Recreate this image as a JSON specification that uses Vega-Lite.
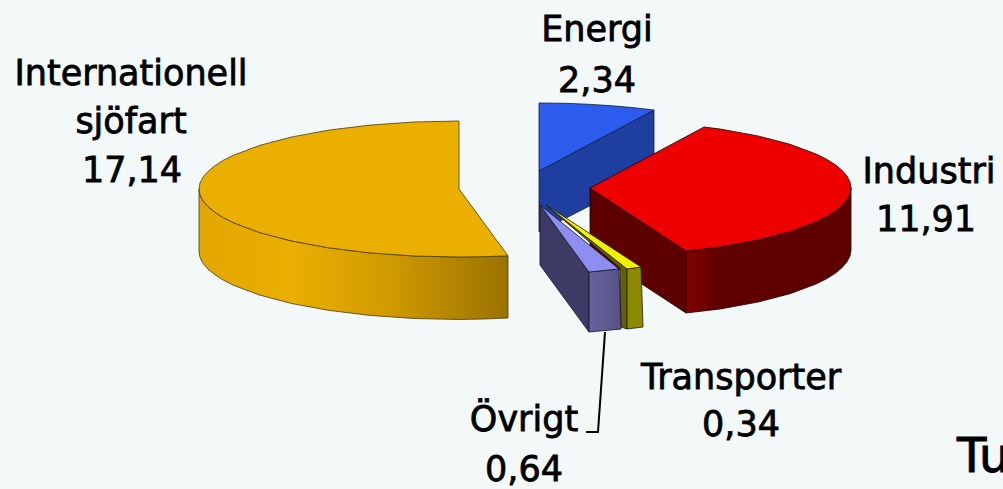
{
  "$schema": "https://vega.github.io/schema/vega-lite/v6.json",
  "width": 1003,
  "height": 489,
  "padding": 0,
  "autosize": {"type": "none"},
  "background": "#f3f8f9",
  "view": {"stroke": null},
  "datasets": {
    "faces": [
      {"face":"energiSide","x":539,"y":171},{"face":"energiSide","x":654,"y":110},{"face":"energiSide","x":654,"y":173},{"face":"energiSide","x":568,"y":217},{"face":"energiSide","x":539,"y":232},{"face":"energiSide","x":539,"y":171},
      {"face":"energiTop","x":539,"y":103},{"face":"energiTop","x":565,"y":103.3},{"face":"energiTop","x":587,"y":104.2},{"face":"energiTop","x":610,"y":105.6},{"face":"energiTop","x":632,"y":107.5},{"face":"energiTop","x":654,"y":110},{"face":"energiTop","x":539,"y":171},{"face":"energiTop","x":539,"y":103},

      {"face":"sjofartSide","x":199,"y":189},{"face":"sjofartSide","x":200,"y":195},{"face":"sjofartSide","x":203,"y":200.8},{"face":"sjofartSide","x":208,"y":206.6},{"face":"sjofartSide","x":215,"y":212.3},{"face":"sjofartSide","x":223.4,"y":217.7},{"face":"sjofartSide","x":234,"y":223},{"face":"sjofartSide","x":260,"y":232.7},{"face":"sjofartSide","x":292,"y":241.1},{"face":"sjofartSide","x":329,"y":247.9},{"face":"sjofartSide","x":370,"y":252.9},{"face":"sjofartSide","x":414,"y":256},{"face":"sjofartSide","x":459,"y":257},{"face":"sjofartSide","x":484,"y":256.7},{"face":"sjofartSide","x":508,"y":255.8},
      {"face":"sjofartSide","x":508,"y":318},{"face":"sjofartSide","x":484,"y":319},{"face":"sjofartSide","x":459,"y":319.5},{"face":"sjofartSide","x":414,"y":318.5},{"face":"sjofartSide","x":370,"y":315.4},{"face":"sjofartSide","x":329,"y":310.4},{"face":"sjofartSide","x":292,"y":303.6},{"face":"sjofartSide","x":260,"y":295.2},{"face":"sjofartSide","x":234,"y":285.5},{"face":"sjofartSide","x":223.4,"y":280.2},{"face":"sjofartSide","x":215,"y":274.8},{"face":"sjofartSide","x":208,"y":269.1},{"face":"sjofartSide","x":203,"y":263.3},{"face":"sjofartSide","x":200,"y":257.5},{"face":"sjofartSide","x":199,"y":251.5},{"face":"sjofartSide","x":199,"y":189},

      {"face":"sjofartTop","x":459,"y":121},{"face":"sjofartTop","x":414,"y":122},{"face":"sjofartTop","x":370,"y":125.1},{"face":"sjofartTop","x":329,"y":130.1},{"face":"sjofartTop","x":292,"y":136.9},{"face":"sjofartTop","x":260,"y":145.3},{"face":"sjofartTop","x":234,"y":155},{"face":"sjofartTop","x":223.4,"y":160.2},{"face":"sjofartTop","x":215,"y":165.7},{"face":"sjofartTop","x":208,"y":171.4},{"face":"sjofartTop","x":203,"y":177.2},{"face":"sjofartTop","x":200,"y":183},{"face":"sjofartTop","x":199,"y":189},{"face":"sjofartTop","x":200,"y":195},{"face":"sjofartTop","x":203,"y":200.8},{"face":"sjofartTop","x":208,"y":206.6},{"face":"sjofartTop","x":215,"y":212.3},{"face":"sjofartTop","x":223.4,"y":217.7},{"face":"sjofartTop","x":234,"y":223},{"face":"sjofartTop","x":260,"y":232.7},{"face":"sjofartTop","x":292,"y":241.1},{"face":"sjofartTop","x":329,"y":247.9},{"face":"sjofartTop","x":370,"y":252.9},{"face":"sjofartTop","x":414,"y":256},{"face":"sjofartTop","x":459,"y":257},{"face":"sjofartTop","x":484,"y":256.7},{"face":"sjofartTop","x":508,"y":255.8},{"face":"sjofartTop","x":459,"y":189},{"face":"sjofartTop","x":459,"y":121},

      {"face":"industriInner","x":590,"y":188},{"face":"industriInner","x":686,"y":251},{"face":"industriInner","x":686,"y":313},{"face":"industriInner","x":590,"y":250},{"face":"industriInner","x":590,"y":188},

      {"face":"industriSide","x":686,"y":251},{"face":"industriSide","x":720.5,"y":246.9},{"face":"industriSide","x":757.8,"y":240.1},{"face":"industriSide","x":790,"y":231.7},{"face":"industriSide","x":816,"y":222},{"face":"industriSide","x":826.5,"y":216.8},{"face":"industriSide","x":835.3,"y":211.3},{"face":"industriSide","x":842.1,"y":205.6},{"face":"industriSide","x":847,"y":199.8},{"face":"industriSide","x":850,"y":193.9},{"face":"industriSide","x":851,"y":188},
      {"face":"industriSide","x":851,"y":250},{"face":"industriSide","x":850,"y":255.9},{"face":"industriSide","x":847,"y":261.8},{"face":"industriSide","x":842.1,"y":267.6},{"face":"industriSide","x":835.3,"y":273.3},{"face":"industriSide","x":826.5,"y":278.8},{"face":"industriSide","x":816,"y":284},{"face":"industriSide","x":790,"y":293.7},{"face":"industriSide","x":757.8,"y":302.1},{"face":"industriSide","x":720.5,"y":308.9},{"face":"industriSide","x":686,"y":313},{"face":"industriSide","x":686,"y":251},

      {"face":"industriTop","x":704,"y":127},{"face":"industriTop","x":720.5,"y":129.1},{"face":"industriTop","x":757.8,"y":135.9},{"face":"industriTop","x":790,"y":144.3},{"face":"industriTop","x":816,"y":154},{"face":"industriTop","x":826.5,"y":159.2},{"face":"industriTop","x":835.3,"y":164.7},{"face":"industriTop","x":842.1,"y":170.4},{"face":"industriTop","x":847,"y":176.2},{"face":"industriTop","x":850,"y":182.1},{"face":"industriTop","x":851,"y":188},{"face":"industriTop","x":850,"y":193.9},{"face":"industriTop","x":847,"y":199.8},{"face":"industriTop","x":842.1,"y":205.6},{"face":"industriTop","x":835.3,"y":211.3},{"face":"industriTop","x":826.5,"y":216.8},{"face":"industriTop","x":816,"y":222},{"face":"industriTop","x":790,"y":231.7},{"face":"industriTop","x":757.8,"y":240.1},{"face":"industriTop","x":720.5,"y":246.9},{"face":"industriTop","x":686,"y":251},{"face":"industriTop","x":590,"y":188},{"face":"industriTop","x":704,"y":127},

      {"face":"transportInner","x":546,"y":205},{"face":"transportInner","x":627,"y":269},{"face":"transportInner","x":627,"y":329},{"face":"transportInner","x":621,"y":327},{"face":"transportInner","x":620,"y":268},{"face":"transportInner","x":546,"y":205},
      {"face":"transportFront","x":627,"y":269},{"face":"transportFront","x":641,"y":267},{"face":"transportFront","x":643,"y":327},{"face":"transportFront","x":627,"y":329},{"face":"transportFront","x":627,"y":269},
      {"face":"transportTop","x":546,"y":205},{"face":"transportTop","x":641,"y":267},{"face":"transportTop","x":627,"y":269},{"face":"transportTop","x":546,"y":205},

      {"face":"ovrigtInner","x":540,"y":205},{"face":"ovrigtInner","x":589,"y":272},{"face":"ovrigtInner","x":589,"y":332},{"face":"ovrigtInner","x":540,"y":265},{"face":"ovrigtInner","x":540,"y":205},
      {"face":"ovrigtFront","x":589,"y":272},{"face":"ovrigtFront","x":619,"y":269},{"face":"ovrigtFront","x":621,"y":329},{"face":"ovrigtFront","x":589,"y":332},{"face":"ovrigtFront","x":589,"y":272},
      {"face":"ovrigtTop","x":540,"y":205},{"face":"ovrigtTop","x":619,"y":269},{"face":"ovrigtTop","x":589,"y":272},{"face":"ovrigtTop","x":540,"y":205}
    ],
    "leader": [
      {"x":605,"y":332},{"x":598,"y":432},{"x":586,"y":432}
    ],
    "labels": [
      {"text":"Internationell","x":131,"y":85},
      {"text":"sjöfart","x":131,"y":133},
      {"text":"17,14","x":132,"y":182},
      {"text":"Energi","x":597,"y":41},
      {"text":"2,34","x":597,"y":92},
      {"text":"Industri","x":929,"y":183},
      {"text":"11,91","x":926,"y":231},
      {"text":"Transporter","x":741,"y":389},
      {"text":"0,34","x":741,"y":436},
      {"text":"Övrigt","x":524,"y":431},
      {"text":"0,64","x":524,"y":481}
    ],
    "caption": [
      {"text":"Tu","x":957,"y":472}
    ]
  },
  "encoding": {
    "x": {"field": "x", "type": "quantitative", "axis": null, "scale": {"domain": [0, 1003], "nice": false, "zero": false}},
    "y": {"field": "y", "type": "quantitative", "axis": null, "scale": {"domain": [489, 0], "nice": false, "zero": false}},
    "order": {"value": null}
  },
  "layer": [
    {"data": {"name": "faces"}, "transform": [{"filter": "datum.face === 'energiSide'"}], "mark": {"type": "line", "fill": "#1e3f9f", "stroke": "#101c40", "strokeWidth": 0.8}},
    {"data": {"name": "faces"}, "transform": [{"filter": "datum.face === 'energiTop'"}], "mark": {"type": "line", "fill": "#2b5cee", "stroke": "#101c40", "strokeWidth": 0.8}},
    {"data": {"name": "faces"}, "transform": [{"filter": "datum.face === 'sjofartSide'"}], "mark": {"type": "line", "stroke": "#4a3a10", "strokeWidth": 0.8, "fill": {"gradient": "linear", "x1": 0, "x2": 1, "y1": 0, "y2": 0, "stops": [{"offset": 0, "color": "#e2a600"}, {"offset": 0.3, "color": "#ebaf00"}, {"offset": 0.6, "color": "#d29c00"}, {"offset": 1, "color": "#9a7200"}]}}},
    {"data": {"name": "faces"}, "transform": [{"filter": "datum.face === 'sjofartTop'"}], "mark": {"type": "line", "fill": "#ebaf00", "stroke": "#4a3a10", "strokeWidth": 0.8}},
    {"data": {"name": "faces"}, "transform": [{"filter": "datum.face === 'industriInner'"}], "mark": {"type": "line", "fill": "#5c0000", "stroke": "#1a0000", "strokeWidth": 0.8}},
    {"data": {"name": "faces"}, "transform": [{"filter": "datum.face === 'industriSide'"}], "mark": {"type": "line", "stroke": "#1a0000", "strokeWidth": 0.8, "fill": {"gradient": "linear", "x1": 0, "x2": 1, "y1": 0, "y2": 0, "stops": [{"offset": 0, "color": "#820000"}, {"offset": 0.2, "color": "#610000"}, {"offset": 1, "color": "#5e0000"}]}}},
    {"data": {"name": "faces"}, "transform": [{"filter": "datum.face === 'industriTop'"}], "mark": {"type": "line", "fill": "#ee0000", "stroke": "#1a0000", "strokeWidth": 0.8}},
    {"data": {"name": "faces"}, "transform": [{"filter": "datum.face === 'transportInner'"}], "mark": {"type": "line", "fill": "#666000", "stroke": "#1c1c00", "strokeWidth": 0.8}},
    {"data": {"name": "faces"}, "transform": [{"filter": "datum.face === 'transportFront'"}], "mark": {"type": "line", "fill": "#8c8a00", "stroke": "#1c1c00", "strokeWidth": 0.8}},
    {"data": {"name": "faces"}, "transform": [{"filter": "datum.face === 'transportTop'"}], "mark": {"type": "line", "fill": "#f2f200", "stroke": "#1c1c00", "strokeWidth": 0.8}},
    {"data": {"name": "faces"}, "transform": [{"filter": "datum.face === 'ovrigtInner'"}], "mark": {"type": "line", "fill": "#3e3a66", "stroke": "#141428", "strokeWidth": 0.8}},
    {"data": {"name": "faces"}, "transform": [{"filter": "datum.face === 'ovrigtFront'"}], "mark": {"type": "line", "stroke": "#141428", "strokeWidth": 0.8, "fill": {"gradient": "linear", "x1": 0, "x2": 1, "y1": 0, "y2": 0, "stops": [{"offset": 0, "color": "#66629f"}, {"offset": 1, "color": "#565285"}]}}},
    {"data": {"name": "faces"}, "transform": [{"filter": "datum.face === 'ovrigtTop'"}], "mark": {"type": "line", "fill": "#8e8ef0", "stroke": "#141428", "strokeWidth": 0.8}},
    {"data": {"name": "leader"}, "mark": {"type": "line", "stroke": "#000000", "strokeWidth": 2}},
    {"data": {"name": "labels"}, "mark": {"type": "text", "font": "DejaVu Sans", "fontSize": 35, "align": "center", "baseline": "alphabetic", "fill": "#000000", "stroke": "#000000", "strokeWidth": 0.8}, "encoding": {"text": {"field": "text"}}},
    {"data": {"name": "caption"}, "mark": {"type": "text", "font": "DejaVu Sans", "fontSize": 48, "align": "left", "baseline": "alphabetic", "fill": "#000000", "stroke": "#000000", "strokeWidth": 1}, "encoding": {"text": {"field": "text"}}}
  ]
}
